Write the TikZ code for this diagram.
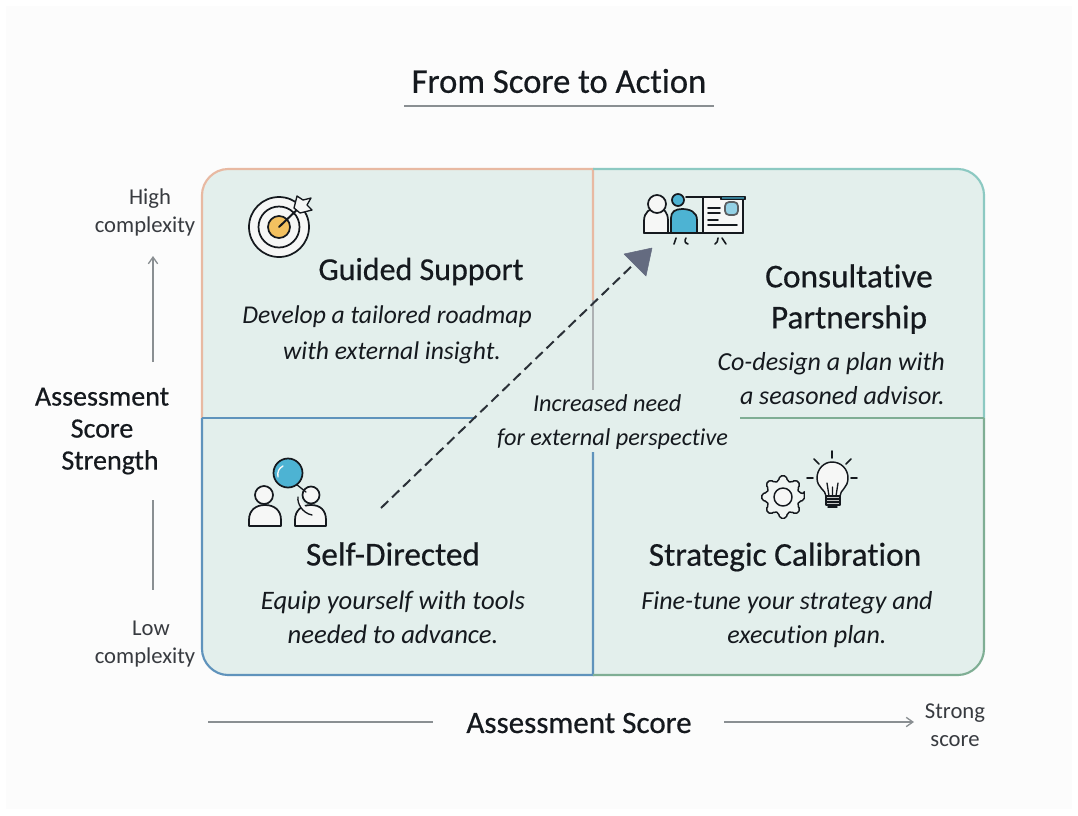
\documentclass[tikz,border=0pt]{standalone}
\usepackage{fontspec}
\setmainfont[Ligatures=NoCommon]{Carlito}
\newfontfamily\headfont[FakeBold=0.5,Ligatures=NoCommon]{Carlito}
\usetikzlibrary{arrows.meta}
\definecolor{ink}{HTML}{15191E}
\definecolor{cellfill}{HTML}{E3EFEC}
\definecolor{axisgrey}{HTML}{8A8F92}
\definecolor{dashink}{HTML}{2B3138}
\definecolor{tipfill}{HTML}{646B80}
\definecolor{iconblue}{HTML}{4DB3D3}
\definecolor{icongold}{HTML}{F3C160}
\definecolor{iconwhite}{HTML}{F6F7F6}
\definecolor{edgeorange}{HTML}{E8B9A2}
\definecolor{edgeteal}{HTML}{8CC9C2}
\definecolor{edgeblue}{HTML}{5F93BC}
\definecolor{edgegreen}{HTML}{7FAE94}
\tikzset{
  x=0.75pt,y=-0.75pt,
  heading/.style={text=ink,font=\headfont\fontsize{25}{30.75}\selectfont,align=center,inner sep=0pt},
  bodytext/.style={text=ink,font=\fontsize{19.5}{25.5}\selectfont\itshape,align=center,inner sep=0pt},
  axislabel/.style={text=ink,font=\headfont\fontsize{21}{24}\selectfont,align=center,inner sep=0pt},
  ticklabel/.style={text=ink!85,font=\fontsize{17}{21}\selectfont,align=center,inner sep=0pt},
  axisline/.style={draw=axisgrey,line width=1pt},
  axisarrow/.style={axisline,-{Straight Barb[length=5pt,width=7pt]}},
  icon/.style={draw=ink,line width=1.3pt,line join=round,line cap=round},
}
\begin{document}
\begin{tikzpicture}
\useasboundingbox (0,0) rectangle (1078,815);
\fill[white] (0,0) rectangle (1078,815);
\fill[black!1] (6,6) rectangle (1072,809);
% quadrant fill
\fill[cellfill] (202,195) .. controls (202,181) and (214,169) .. (228,169) -- (958,169) .. controls (972,169) and (984,181) .. (984,195) -- (984,649) .. controls (984,663) and (972,675) .. (958,675) -- (228,675) .. controls (214,675) and (202,663) .. (202,649) -- cycle;
% quadrant edges
\draw[edgeorange,line width=1.6pt] (202,418) -- (202,195) .. controls (202,181) and (214,169) .. (228,169) -- (593,169) -- (593,300);
\draw[edgeteal,line width=1.6pt] (593,169) -- (958,169) .. controls (972,169) and (984,181) .. (984,195) -- (984,418);
\draw[edgeblue,line width=1.6pt] (202,418) -- (202,649) .. controls (202,663) and (214,675) .. (228,675) -- (593,675) -- (593,452);
\draw[edgeblue,line width=1.3pt] (202,418) -- (476,418);
\draw[edgegreen,line width=1.6pt] (593,675) -- (958,675) .. controls (972,675) and (984,663) .. (984,649) -- (984,418);
\draw[axisgrey!70,line width=1.2pt] (593,300) -- (593,390);
\draw[edgegreen,line width=1.3pt] (740,418) -- (984,418);
% title
\node[text=ink,font=\headfont\fontsize{26}{30}\selectfont,inner sep=0pt] (title) at (559,81) {From Score to Action};
\coordinate (ruleL) at (404,106);
\coordinate (ruleR) at (714,106);
\draw[axisgrey,line width=1.2pt] (ruleL) -- (ruleR);
% headings and bodies
\node[heading,font=\headfont\fontsize{24}{30}\selectfont] (guided) at (421,271.5) {Guided Support};
\node[bodytext,font=\fontsize{19.2}{27}\selectfont\itshape] (guidedtxt) at (387,335) {Develop a tailored roadmap\\\hspace*{7.5pt}with external insight.};
\node[heading] (consult) at (849,299) {Consultative\\Partnership};
\node[bodytext,align=right,anchor=east] (consulttxt) at (945,379) {Co-design a plan with\\a seasoned advisor.};
\node[heading] (self) at (393,554) {Self-Directed};
\node[bodytext,font=\fontsize{20}{25.5}\selectfont\itshape] (selftxt) at (393,617) {Equip yourself with tools\\needed to advance.};
\node[heading] (strategic) at (785,557) {Strategic Calibration};
\node[bodytext] (strategictxt) at (787,620) {Fine-tune your strategy and\\\hspace*{30pt}execution plan.};
\node[bodytext,font=\fontsize{18.2}{25.5}\selectfont\itshape] (need) at (612.5,422) {\hspace*{-8pt}Increased need\\for external perspective};
% axis labels
\node[axislabel] (yaxis) at (102,431) {Assessment\\Score\\\hspace*{12pt}Strength};
\node[axislabel,font=\headfont\fontsize{23.3}{28}\selectfont] (xaxis) at (579,723) {Assessment Score};
\node[ticklabel] (high) at (145,212) {\hspace*{7.5pt}High\\complexity};
\node[ticklabel] (low) at (145,644) {\hspace*{9pt}Low\\complexity};
\node[ticklabel] (strong) at (955,725) {Strong\\score};
% axis connectors
\coordinate (yTop) at (153,256);
\coordinate (yTopS) at (153,362);
\coordinate (yBotS) at (153,500);
\coordinate (yBot) at (153,590);
\coordinate (xLeft) at (208,722);
\coordinate (xLeftE) at (433,722);
\coordinate (xRightS) at (724,722);
\coordinate (xRight) at (914,722);
\draw[axisarrow] (yTopS) -- (yTop);
\draw[axisline] (yBotS) -- (yBot);
\draw[axisline] (xLeft) -- (xLeftE);
\draw[axisarrow] (xRightS) -- (xRight);
% dashed diagonal
\coordinate (dashA) at (381,508);
\coordinate (dashB) at (636,262);
\draw[dashink,line width=1.5pt,dash pattern=on 7.5pt off 4pt] (dashA) -- (dashB);
\fill[tipfill,draw=tipfill,line join=round] (652,248) -- (624,254) -- (646,276) -- cycle;
% target icon
\begin{scope}[icon]
\draw[fill=iconwhite] (279,227) circle (30);
\draw (279,227) circle (20.5);
\draw[fill=icongold] (279,227) circle (11);
\draw[line width=1.5pt] (279,227) -- (302,205);
\draw[fill=iconwhite,line width=1pt] (294,208) -- (297,196) -- (303,200) -- (311,198) -- (307,205) -- (312,210) -- (300,213) -- cycle;
\end{scope}
% consult icon
\begin{scope}[icon]
\draw[fill=iconwhite] (644,233) -- (644,221) .. controls (644,212) and (650,208) .. (657,208) .. controls (664,208) and (668,212) .. (668,221) -- (668,233) -- cycle;
\draw[fill=iconwhite] (657,204) circle (9);
\draw[fill=iconblue] (671,233) -- (671,218) .. controls (671,212) and (675,209) .. (682,209) .. controls (690,209) and (697,212) .. (697,220) -- (697,233) -- cycle;
\draw[fill=iconblue] (678,200) circle (6);
\draw (686,197) -- (703,197);
\draw[fill=iconwhite] (703,197) rectangle (743,233);
\draw (644,233) -- (743,233);
\draw[fill=iconblue!60,draw=ink!70,rounded corners=3pt] (725,202) rectangle (738,215);
\draw[fill=iconblue!70!black,line width=1pt] (721,196.5) rectangle (745,199.5);
\foreach \yy/\xe in {208/720,213/720,220/718,225/737} {\draw (708,\yy) -- (\xe,\yy);}
\draw[line width=1.2pt] (676,238) -- (674,244);
\draw[line width=1.2pt] (686,238) .. controls (684,241) and (685,243) .. (688,244);
\draw[line width=1.2pt] (718,238) .. controls (718,241) and (717,243) .. (715,244);
\draw[line width=1.2pt] (722,238) -- (726,244);
\end{scope}
% self icon
\begin{scope}[icon]
\draw[fill=iconwhite] (249,526) -- (249,520) .. controls (249,510) and (256,505) .. (265,505) .. controls (274,505) and (281,510) .. (281,520) -- (281,526) -- cycle;
\draw[fill=iconwhite] (264,495) circle (9);
\draw[fill=iconwhite] (295,526) -- (295,520) .. controls (295,510) and (302,505) .. (311,505) .. controls (320,505) and (326,510) .. (326,520) -- (326,526) -- cycle;
\draw[fill=iconwhite] (311,495) circle (8.5);
\draw[fill=iconwhite,line width=1pt] (298,497) .. controls (297,503) and (302,513) .. (312,515);
\draw[line width=1pt] (296,484) -- (306,492);
\draw[fill=iconblue] (288,473) circle (14.5);
\draw[iconwhite!80,line width=1pt] (278,477) .. controls (277,472) and (279,468) .. (283,466);
\end{scope}
% gear and bulb icon
\begin{scope}[icon,line width=1.1pt]
\draw[fill=iconwhite!70!cellfill,rounded corners=1.5pt] ({783+21.5*cos(-9)},{497+21.5*sin(-9)})
  \foreach \a in {0,45,...,315} {
    -- ({783+21.5*cos(\a-9)},{497+21.5*sin(\a-9)}) -- ({783+21.5*cos(\a+9)},{497+21.5*sin(\a+9)}) -- ({783+16.5*cos(\a+15)},{497+16.5*sin(\a+15)}) -- ({783+16.5*cos(\a+30)},{497+16.5*sin(\a+30)})
  } -- cycle;
\draw[fill=iconwhite] (783,497) circle (9);
\draw[fill=iconwhite] (826,496) .. controls (826,490) and (817,488) .. (817,478) .. controls (817,469) and (824,462) .. (832,462) .. controls (841,462) and (848,469) .. (848,478) .. controls (848,488) and (840,490) .. (840,496) -- cycle;
\draw[line width=1pt] (829,496) -- (827,483) (836,496) -- (838,483) (832.5,496) -- (832.5,487);
\draw[fill=iconwhite!80!black] (826,496) rectangle (840,505);
\draw (826,499) -- (840,499) (826,502) -- (840,502);
\draw (828,507) -- (837,507);
\draw[line width=1.3pt] (832,451) -- (832,458) (814,459) -- (819,464) (851,459) -- (846,464) (807,478) -- (813,478) (851,478) -- (857,478);
\end{scope}
\end{tikzpicture}
\end{document}
